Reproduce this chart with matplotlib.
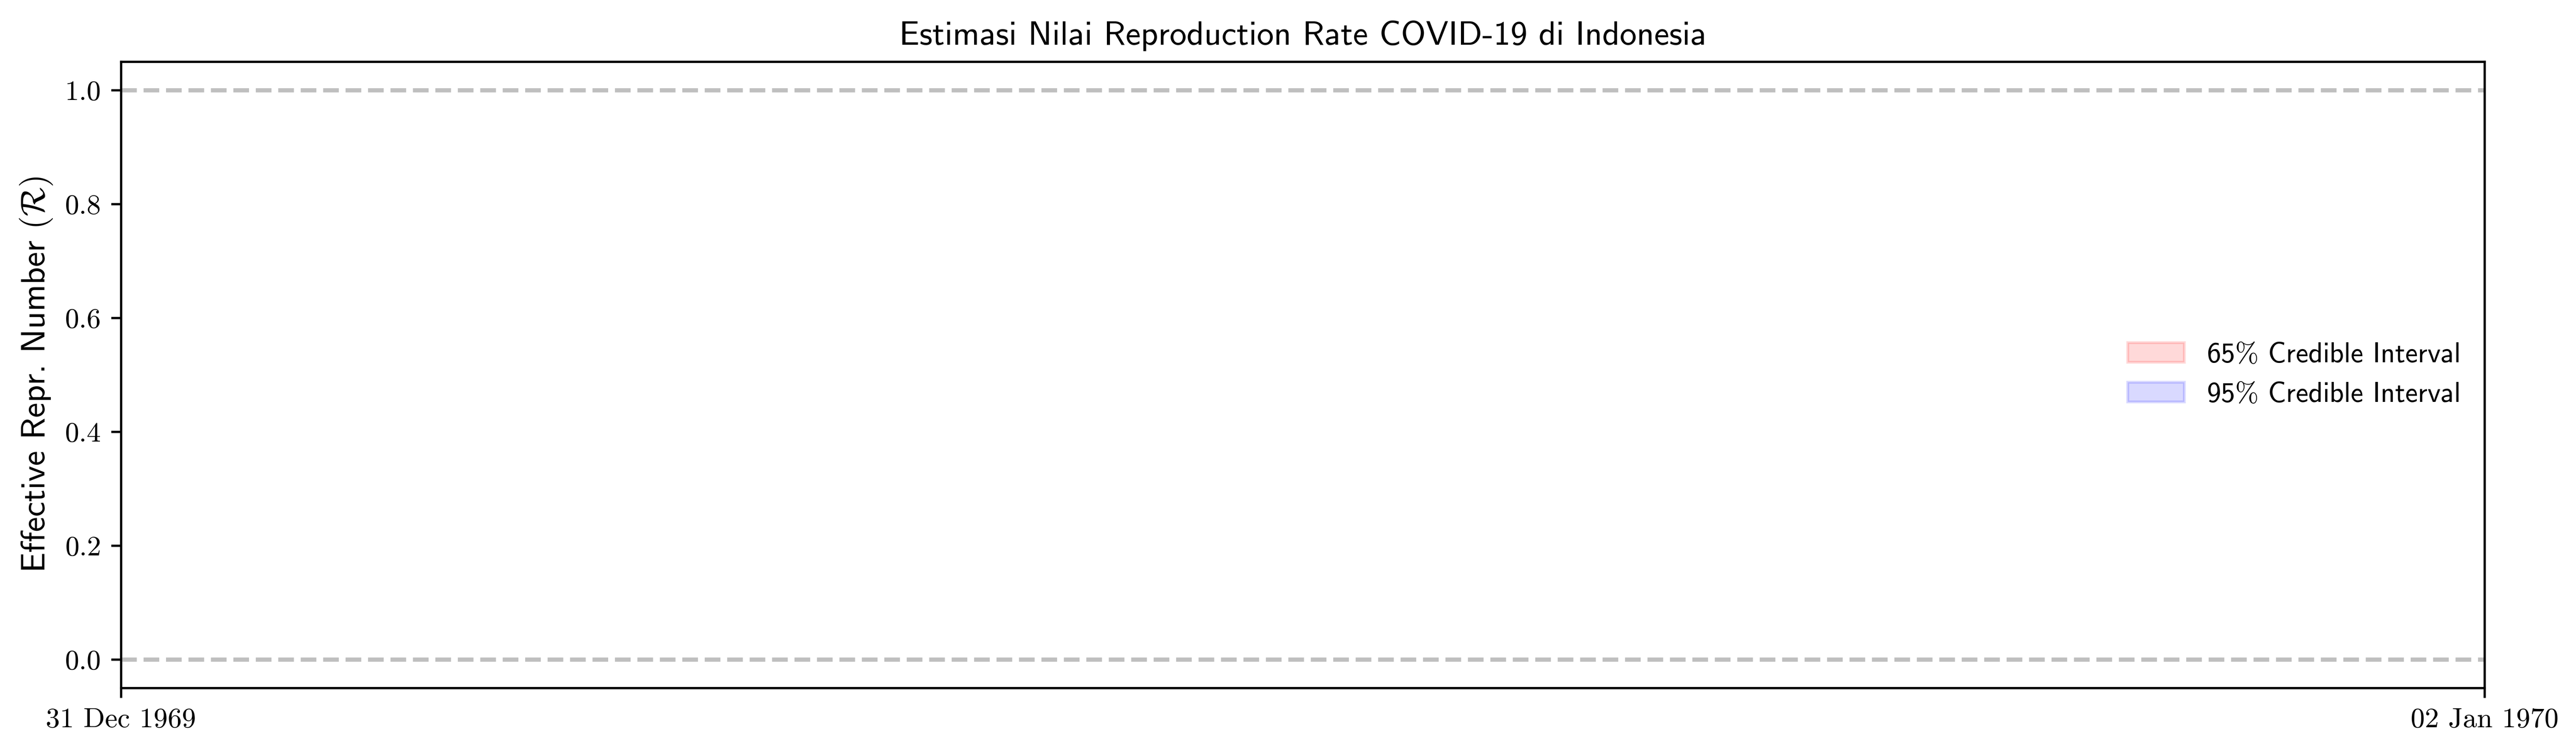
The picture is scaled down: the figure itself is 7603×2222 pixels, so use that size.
import numpy as np
import pandas as pd
import matplotlib
matplotlib.use("Agg")
import matplotlib.pyplot as plt
import matplotlib.dates as mdates

plt.rcParams['mathtext.fontset'] = 'cm'
plt.rcParams['axes.unicode_minus'] = False

# ******** data (the estimate series is empty in the reference) ********
dates = pd.to_datetime([])
r_low_95 = np.array([])
r_high_95 = np.array([])
r_low_65 = np.array([])
r_high_65 = np.array([])
x_range = pd.to_datetime(['1969-12-31', '1970-01-02'])
ref_lines = [1.0, 0.0]

title = 'Estimasi Nilai Reproduction Rate COVID-19 di Indonesia'
ylabel = r'Effective Repr. Number $(\mathcal{R})$'
labels = [r'65$\%$ Credible Interval', r'95$\%$ Credible Interval']

# ******** plot ********
fig, ax = plt.subplots(figsize=(7603 / 600, 2222 / 600), dpi=600)
fig.subplots_adjust(left=0.04695, right=0.9645, bottom=0.0864, top=0.9181)

for y in ref_lines:
    ax.axhline(y, color='k', alpha=0.25, linestyle='--', linewidth=1.5)

ax.fill_between(dates, r_low_65, r_high_65, color='red', alpha=0.15, label=labels[0])
ax.fill_between(dates, r_low_95, r_high_95, color='blue', alpha=0.15, label=labels[1])

ax.set_xlim(x_range[0], x_range[1])
ax.set_xticks(x_range)
ax.xaxis.set_major_formatter(mdates.DateFormatter('%d %b %Y'))
ax.set_yticks([0.0, 0.2, 0.4, 0.6, 0.8, 1.0])
ax.set_ylim(-0.05, 1.05)
ax.tick_params(labelfontfamily='cmr10', labelsize=10)

ax.set_title(title, fontfamily='cmss10', fontsize=12)
ax.set_ylabel(ylabel, fontfamily='cmss10', fontsize=12)
leg = ax.legend(loc='center right', frameon=False, prop={'family': 'cmss10', 'size': 10})

fig.savefig('out.png', dpi=600)
